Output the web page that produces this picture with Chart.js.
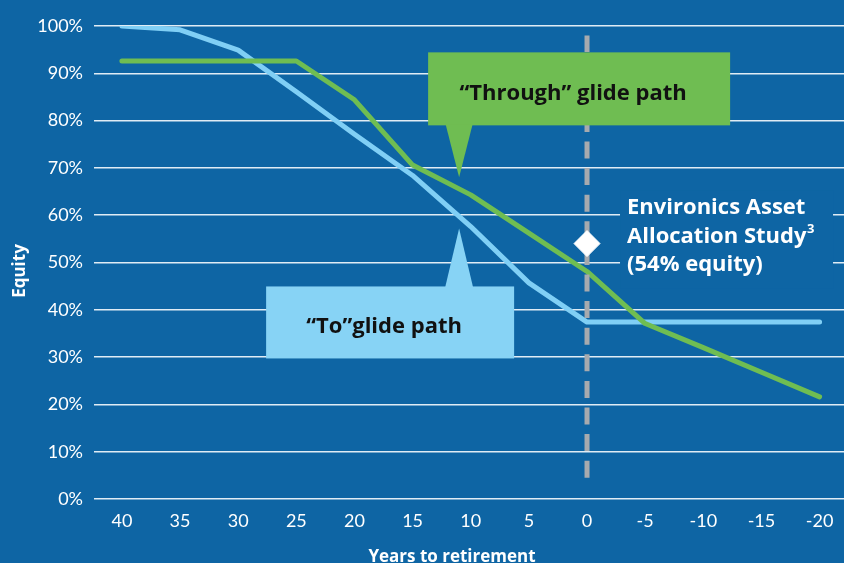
<!DOCTYPE html>
<html>
<head>
<meta charset="utf-8">
<script src="https://cdn.jsdelivr.net/npm/chart.js@4.4.0/dist/chart.umd.min.js"></script>
<style>
  html, body { margin: 0; padding: 0; background: #0e65a4; overflow: hidden; }
  .chart-wrap { position: relative; width: 844px; height: 563px; }
</style>
</head>
<body>
<div class="chart-wrap"><canvas id="glideChart"></canvas></div>
<script>
// Years to retirement (x) and equity share (%) for each glide path
const years = [40, 35, 30, 25, 20, 15, 10, 5, 0, -5, -10, -15, -20];
const toPath = [100, 99.2, 94.9, 86.1, 77.1, 68.4, 57.6, 45.7, 37.4, 37.4, 37.4, 37.4, 37.4];
const throughPath = [92.6, 92.6, 92.6, 92.6, 84.4, 70.6, 64.3, 56.2, 48.1, 37.1, 32, 26.8, 21.6];
const studyYear = [0];
const studyEquity = [54];

const bg = '#0e65a4';
const blue = '#80cff5';
const green = '#6fbd52';
const font = 'Lato, "Open Sans", sans-serif';
const boldFont = '"Open Sans", Lato, sans-serif';

const toPoints = (ys) => years.map((yr, i) => ({ x: yr, y: ys[i] }));

/* =========================
   Callouts, retirement line, titles
========================= */
const overlayPlugin = {
  id: 'overlay',
  beforeDatasetDraw(chart, args) {
    if (args.index !== 2) return;
    const { ctx, scales: { x, y } } = chart;
    // dashed retirement line at year 0
    const px = x.getPixelForValue(0);
    ctx.save();
    ctx.strokeStyle = '#a7aaae';
    ctx.lineWidth = 5;
    ctx.setLineDash([17, 9.6]);
    ctx.beginPath();
    ctx.moveTo(px, y.getPixelForValue(4.5));
    ctx.lineTo(px, y.getPixelForValue(98));
    ctx.stroke();
    ctx.restore();
  },
  afterDatasetsDraw(chart) {
    const { ctx, scales: { x, y } } = chart;
    ctx.save();

    // "Through" callout (green)
    let ax = x.getPixelForValue(11), ay = y.getPixelForValue(68);
    ctx.fillStyle = green;
    ctx.fillRect(ax - 31, ay - 125, 302, 73);
    ctx.beginPath();
    ctx.moveTo(ax - 13.5, ay - 53);
    ctx.lineTo(ax + 13.5, ay - 53);
    ctx.lineTo(ax, ay);
    ctx.closePath();
    ctx.fill();
    ctx.fillStyle = '#111';
    ctx.font = 'bold 22px ' + boldFont;
    ctx.textAlign = 'center';
    ctx.textBaseline = 'alphabetic';
    ctx.fillText('\u201CThrough\u201D glide path', ax + 114, ay - 77);

    // "To" callout (light blue)
    ax = x.getPixelForValue(11); ay = y.getPixelForValue(57.2);
    ctx.fillStyle = '#87d3f5';
    ctx.fillRect(ax - 193, ay + 58, 248, 72);
    ctx.beginPath();
    ctx.moveTo(ax - 14, ay + 59);
    ctx.lineTo(ax + 14, ay + 59);
    ctx.lineTo(ax, ay);
    ctx.closePath();
    ctx.fill();
    ctx.fillStyle = '#111';
    ctx.font = 'bold 22px ' + boldFont;
    ctx.fillText('\u201CTo\u201Dglide path', ax - 75, ay + 105);

    // Environics study label
    const lx = x.getPixelForValue(0) + 40;
    const ly = y.getPixelForValue(60);
    ctx.fillStyle = bg;
    ctx.fillRect(lx - 7, ly - 25, 213, 98);
    ctx.fillStyle = '#fff';
    ctx.textAlign = 'left';
    ctx.font = 'bold 22px ' + boldFont;
    ctx.fillText('Environics Asset', lx, ly - 1);
    ctx.fillText('Allocation Study', lx, ly + 28);
    const w = ctx.measureText('Allocation Study').width;
    ctx.font = 'bold 13px ' + boldFont;
    ctx.fillText('3', lx + w + 0.5, ly + 18);
    ctx.font = 'bold 22px ' + boldFont;
    ctx.fillText('(54% equity)', lx, ly + 56);

    ctx.restore();
  },
  afterDraw(chart) {
    const { ctx } = chart;
    ctx.save();
    ctx.fillStyle = '#fff';
    ctx.font = 'bold 17px ' + boldFont;
    ctx.textAlign = 'center';
    ctx.textBaseline = 'middle';
    ctx.fillText('Years to retirement', 452, 557);
    ctx.translate(20, 271);
    ctx.rotate(-Math.PI / 2);
    ctx.fillText('Equity', 0, 0);
    ctx.restore();
  }
};

new Chart(document.getElementById('glideChart'), {
  type: 'line',
  data: {
    datasets: [
      {
        label: 'To glide path',
        data: toPoints(toPath),
        borderColor: blue,
        borderWidth: 5,
        borderCapStyle: 'round',
        borderJoinStyle: 'round',
        pointRadius: 0,
        tension: 0,
        order: 2
      },
      {
        label: 'Through glide path',
        data: toPoints(throughPath),
        borderColor: green,
        borderWidth: 5,
        borderCapStyle: 'round',
        borderJoinStyle: 'round',
        pointRadius: 0,
        tension: 0,
        order: 1
      },
      {
        label: 'Environics Asset Allocation Study',
        type: 'scatter',
        data: studyYear.map((yr, i) => ({ x: yr, y: studyEquity[i] })),
        pointStyle: 'rectRot',
        pointRadius: 13,
        backgroundColor: '#fff',
        borderColor: '#fff',
        borderWidth: 1,
        order: 0
      }
    ]
  },
  options: {
    responsive: true,
    maintainAspectRatio: false,
    animation: false,
    layout: { autoPadding: false, padding: { top: 26, left: 0, right: 0, bottom: 0 } },
    plugins: {
      legend: { display: false },
      tooltip: { enabled: false }
    },
    scales: {
      x: {
        type: 'linear',
        reverse: true,
        min: -22.1,
        max: 42.4,
        afterFit: s => { s.height = 64; s.paddingLeft = 0; s.paddingRight = 0; },
        border: { display: false },
        grid: { display: false },
        ticks: {
          stepSize: 5,
          includeBounds: false,
          padding: 3,
          color: '#fff',
          font: { family: font, size: 18 },
          maxRotation: 0,
          callback: v => String(v)
        }
      },
      y: {
        min: 0,
        max: 100,
        afterFit: s => { s.width = 94; s.paddingTop = 0; s.paddingBottom = 0; },
        border: { display: false },
        grid: { color: 'rgba(236,243,250,0.95)', lineWidth: 1.5, drawTicks: false },
        ticks: {
          stepSize: 10,
          padding: 11,
          color: '#fff',
          font: { family: font, size: 18 },
          callback: v => v + '%'
        }
      }
    }
  },
  plugins: [overlayPlugin]
});
</script>
</body>
</html>
